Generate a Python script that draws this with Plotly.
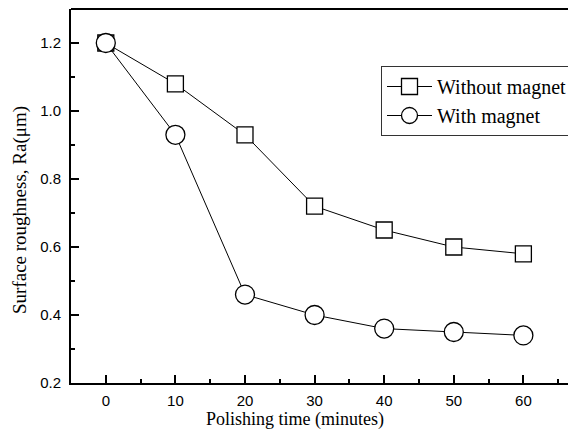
import plotly.graph_objects as go

time_min = [0, 10, 20, 30, 40, 50, 60]
without_magnet = [1.20, 1.08, 0.93, 0.72, 0.65, 0.60, 0.58]
with_magnet = [1.20, 0.93, 0.46, 0.40, 0.36, 0.35, 0.34]
x_ticks = [0, 10, 20, 30, 40, 50, 60]
y_ticks = [0.2, 0.4, 0.6, 0.8, 1.0, 1.2]

# page body has an 8px default margin; figure is sized/offset to compensate
OFF = 8
L, T, B = 71 - OFF, 9 - OFF, 383 - OFF   # plot edges in figure pixels
W, H = 576 - OFF, 443 - OFF
PW, PH = W - L, B - T

fig = go.Figure()
fig.add_trace(go.Scatter(
    x=time_min, y=without_magnet, mode="lines+markers", name="Without magnet",
    line=dict(color="black", width=1),
    marker=dict(symbol="square", size=16, color="white", line=dict(color="black", width=1.3)),
))
fig.add_trace(go.Scatter(
    x=time_min, y=with_magnet, mode="lines+markers", name="With magnet",
    line=dict(color="black", width=1),
    marker=dict(symbol="circle", size=19, color="white", line=dict(color="black", width=1.3)),
))

fig.update_layout(
    width=W, height=H,
    margin=dict(l=L, r=0, t=T, b=H - B),
    plot_bgcolor="white", paper_bgcolor="white",
    showlegend=True,
    legend=dict(
        x=(381 - 71) / PW, y=1 - (66 - 9) / PH, xanchor="left", yanchor="top",
        bordercolor="#333", borderwidth=1, bgcolor="white",
        font=dict(family="Liberation Serif", size=20, color="black"),
        itemwidth=45, tracegroupgap=0,
    ),
    xaxis=dict(
        range=[-5, 67.56], tickvals=x_ticks, ticks="inside", ticklen=8, tickwidth=1.5,
        tickcolor="black", showline=True, linecolor="black", linewidth=2, mirror=False,
        showgrid=False, zeroline=False, automargin=False,
        tickfont=dict(family="Liberation Sans", size=15, color="black"),
        ticklabelstandoff=3,
        minor=dict(ticks="inside", dtick=5, tick0=0, ticklen=4, tickwidth=1.5, tickcolor="black"),
    ),
    yaxis=dict(
        range=[0.2, 1.3], tickvals=y_ticks, tickformat=".1f", ticks="inside", ticklen=8, tickwidth=1.5,
        tickcolor="black", showline=True, linecolor="black", linewidth=2,
        showgrid=False, zeroline=False, automargin=False,
        tickfont=dict(family="Liberation Sans", size=15, color="black"),
        ticklabelstandoff=5,
        minor=dict(ticks="inside", dtick=0.1, tick0=0.2, ticklen=4, tickwidth=1.5, tickcolor="black"),
    ),
    annotations=[
        dict(text="Polishing time (minutes)", xref="paper", yref="paper",
             x=(295 - 71) / PW, y=-(419 - 383) / PH, xanchor="center", yanchor="middle",
             showarrow=False, font=dict(family="Liberation Serif", size=18, color="black")),
        dict(text="Surface roughness, Ra(μm)", xref="paper", yref="paper",
             x=-(71 - 20) / PW, y=1 - (210 - 9) / PH, xanchor="center", yanchor="middle",
             textangle=-90, showarrow=False,
             font=dict(family="Liberation Serif", size=19, color="black")),
    ],
)
# top border line
fig.add_shape(type="line", xref="paper", yref="paper", x0=0, x1=1, y0=1, y1=1,
              line=dict(color="black", width=2))

fig.write_html("out.html")
